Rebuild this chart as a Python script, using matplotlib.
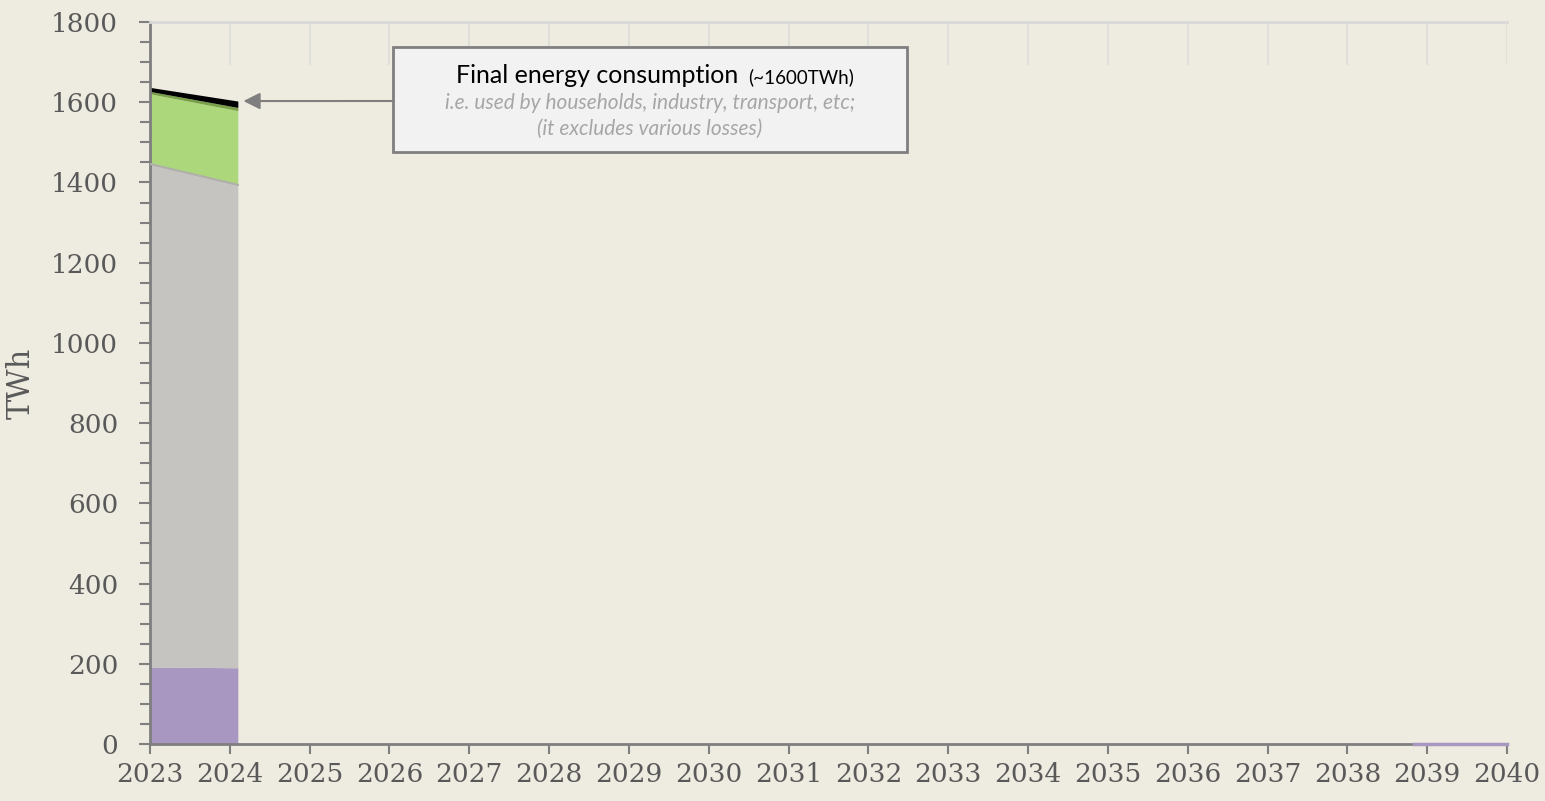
import matplotlib.pyplot as plt
from matplotlib.ticker import MultipleLocator
from matplotlib.patches import Rectangle

# data
years = [2023, 2024.1]
purple = [192, 190]
grey = [1254, 1204]
green = [175, 185]
dark_green = [6, 8]
black = [10, 16]

tail_years = [2038.83, 2040]
tail_values = [0, 0]

tick_years = list(range(2023, 2041))

bg = '#eeebe0'
txt = '#595959'

fig = plt.figure(figsize=(15.45, 8.01), dpi=100, facecolor=bg)
ax = fig.add_axes([0.0971, 0.0712, 0.8783, 0.9013], facecolor=bg)

layers = [purple, grey, green, dark_green, black]
colors = ['#a897c1', '#c5c4c0', '#acd77a', '#78a048', '#000000']
bottom = [0, 0]
for vals, c in zip(layers, colors):
    top = [b + v for b, v in zip(bottom, vals)]
    ax.fill_between(years, bottom, top, color=c, lw=0, zorder=2)
    bottom = top
# thin boundary on top of the grey layer
g_top = [p + g for p, g in zip(purple, grey)]
ax.plot(years, g_top, color='#b0afab', lw=1.5, zorder=3)

ax.plot(tail_years, tail_values, color='#a897c1', lw=2.5, zorder=4, clip_on=False)

# faint vertical lines near the top
ax.vlines(tick_years[1:], 1692, 1800, color='#e0e0da', lw=1.5, zorder=1)

ax.set_xlim(2023, 2040)
ax.set_ylim(0, 1800)
ax.set_xticks(tick_years)
ax.set_xticklabels([str(y) for y in tick_years])
ax.yaxis.set_major_locator(MultipleLocator(200))
ax.yaxis.set_minor_locator(MultipleLocator(50))

for s in ['left', 'bottom']:
    ax.spines[s].set_color('#7f7f7f')
    ax.spines[s].set_linewidth(2)
ax.spines['top'].set_color('#d9d9d9')
ax.spines['top'].set_linewidth(2)
ax.spines['right'].set_visible(False)

ax.tick_params(axis='both', which='both', colors='#7f7f7f', width=1.5,
               labelcolor=txt, labelsize=19)
ax.tick_params(axis='x', which='major', length=7, pad=6)
ax.tick_params(axis='y', which='major', length=8, pad=15)
ax.tick_params(axis='y', which='minor', length=7)
for lab in ax.get_xticklabels() + ax.get_yticklabels():
    lab.set_family('DejaVu Serif')

ax.set_ylabel('TWh', family='DejaVu Serif', fontsize=22, color=txt, labelpad=10)

# annotation box
box = Rectangle((0.179, 0.820), 0.379, 0.145, transform=ax.transAxes,
                facecolor='#f2f2f2', edgecolor='#7f7f7f', lw=2, zorder=5)
ax.add_patch(box)
ax.text(0.4333, 0.9155, 'Final energy consumption', transform=ax.transAxes,
        ha='right', va='baseline', fontsize=18, family='Lato', color='black', zorder=6)
ax.text(0.4407, 0.9155, '(~1600TWh)', transform=ax.transAxes,
        ha='left', va='baseline', fontsize=13.5, family='Lato', color='black', zorder=6)
ax.text(0.3685, 0.888, 'i.e. used by households, industry, transport, etc;',
        transform=ax.transAxes, ha='center', va='center', fontsize=15,
        family='Lato', style='italic', color='#a6a6a6', zorder=6)
ax.text(0.3685, 0.852, '(it excludes various losses)',
        transform=ax.transAxes, ha='center', va='center', fontsize=15,
        family='Lato', style='italic', color='#a6a6a6', zorder=6)
ax.annotate('', xy=(2024.17, 1603), xycoords='data',
            xytext=(0.179, 0.8906), textcoords='axes fraction',
            arrowprops=dict(arrowstyle='-|>', color='#7f7f7f', lw=1.5,
                            mutation_scale=25, shrinkA=0, shrinkB=0),
            zorder=4)

fig.savefig('out.png', dpi=100, facecolor=bg)
